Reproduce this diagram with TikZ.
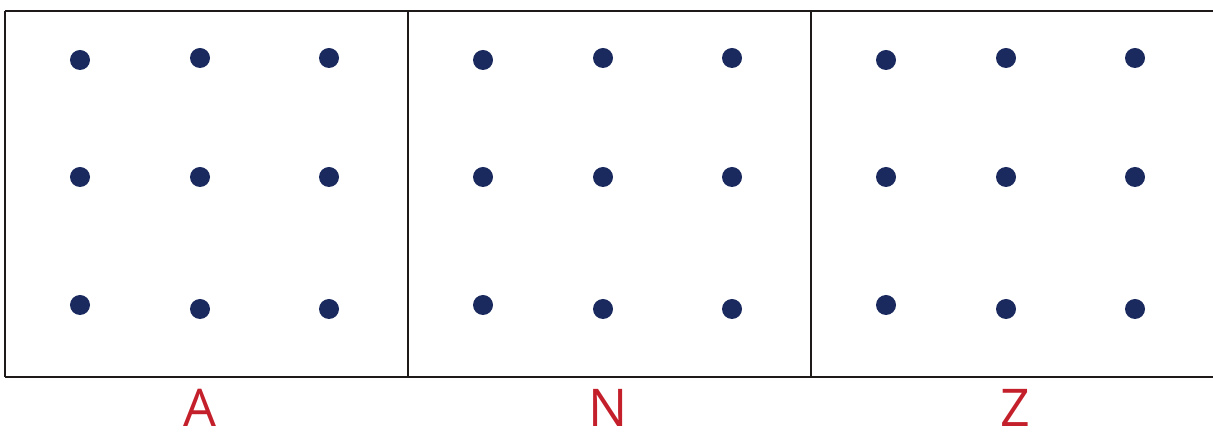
\documentclass[tikz,border=0pt]{standalone}
\usepackage{fontspec}
\setsansfont{Open Sans}
\usetikzlibrary{positioning}
\definecolor{dotnavy}{HTML}{1B2A5E}
\definecolor{lblred}{HTML}{C4202B}
\definecolor{framegray}{HTML}{1E1A1A}

\begin{document}
\begin{tikzpicture}[
  x=0.025cm,y=-0.025cm,
  frame/.style={draw=framegray,line width=1.5pt},
  gridDot/.style={circle,fill=dotnavy,inner sep=0pt,minimum size=0.5cm},
  panelLbl/.style={anchor=base,text=lblred,inner sep=0pt,
                   font=\sffamily\fontsize{37}{40}\selectfont},
]
\useasboundingbox (0,0) rectangle (1213,432);

% frame: top and bottom rules, panel dividers (no right border)
\coordinate (tl) at (5,11);
\coordinate (tr) at (1213,11);
\coordinate (bl) at (5,377);
\coordinate (br) at (1213,377);
\draw[frame] (tl) -- (tr);
\draw[frame] (bl) -- (br);
\foreach \xd [count=\k] in {5,408,811} {
  \coordinate (d\k t) at (\xd,11);
  \coordinate (d\k b) at (\xd,377);
  \draw[frame] (d\k t) -- (d\k b);
}

% three panels of 3x3 dots, each shifted by 403
\foreach \p/\lx/\lbl in {0/200/A,1/608/N,2/1015/Z} {
  \foreach \dx/\dy [count=\i] in {80/60,200/58,329/58,
                                  80/177,200/177,329/177,
                                  80/305,200/309,329/309} {
    \node[gridDot] (dot\p-\i) at ({\dx+403*\p},\dy) {};
  }
  \node[panelLbl] (lbl\lbl) at (\lx,427) {\lbl};
}
\end{tikzpicture}
\end{document}
